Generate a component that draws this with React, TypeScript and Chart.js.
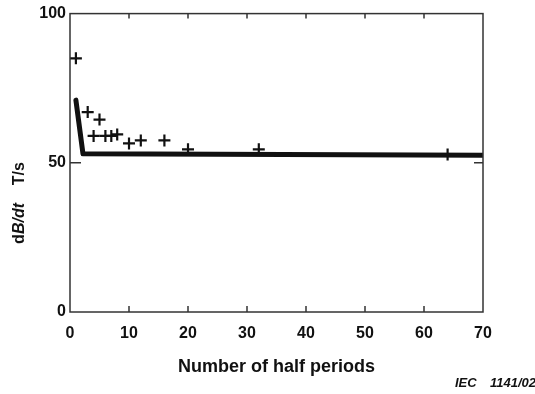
import { useEffect, useRef } from 'react';
import { Chart, registerables } from 'chart.js';

Chart.register(...registerables);

// Measured points: rate of change of flux density per half period count
const halfPeriods = [1, 3, 5, 4, 6, 7, 8, 10, 12, 16, 20, 32, 64];
const measuredRate = [85, 67, 64.5, 59, 59, 59, 59.5, 56.5, 57.5, 57.5, 54.5, 54.5, 52.8];

// Reference curve
const curveHalfPeriods = [1, 2.2, 70];
const curveRate = [71, 53, 52.5];

// Axis ticks
const xTicks = [0, 10, 20, 30, 40, 50, 60, 70];
const yTicks = [0, 50, 100];
const innerXTicks = [10, 20, 30, 40, 50, 60];
const innerYTicks = [50];

const FONT = '"Liberation Sans", Arial, Helvetica, sans-serif';
const INK = '#111';

const framePlugin = {
  id: 'frame',
  afterDraw(chart: any) {
    const { ctx, chartArea: a, scales } = chart;
    ctx.save();
    // box around the plot
    ctx.strokeStyle = '#333';
    ctx.lineWidth = 1.5;
    ctx.strokeRect(a.left, a.top, a.right - a.left, a.bottom - a.top);
    // inward tick marks
    ctx.beginPath();
    innerXTicks.forEach((v) => {
      const px = scales.x.getPixelForValue(v);
      ctx.moveTo(px, a.bottom);
      ctx.lineTo(px, a.bottom - 6);
      ctx.moveTo(px, a.top);
      ctx.lineTo(px, a.top + 5);
    });
    innerYTicks.forEach((v) => {
      const py = scales.y.getPixelForValue(v);
      ctx.moveTo(a.left, py);
      ctx.lineTo(a.left + 11, py);
      ctx.moveTo(a.right, py);
      ctx.lineTo(a.right - 9, py);
    });
    ctx.stroke();

    // y-axis title: dB/dt  T/s
    ctx.translate(20, 203);
    ctx.rotate(-Math.PI / 2);
    ctx.fillStyle = INK;
    ctx.textBaseline = 'middle';
    const parts: [string, string][] = [
      ['d', `bold 16px ${FONT}`],
      ['B/dt', `italic bold 16px ${FONT}`],
      ['    T/s', `bold 16px ${FONT}`],
    ];
    let total = 0;
    parts.forEach(([t, f]) => {
      ctx.font = f;
      total += ctx.measureText(t).width;
    });
    let x = -total / 2;
    parts.forEach(([t, f]) => {
      ctx.font = f;
      ctx.fillText(t, x, 0);
      x += ctx.measureText(t).width;
    });
    ctx.restore();

    // figure reference number
    ctx.save();
    ctx.fillStyle = INK;
    ctx.textBaseline = 'middle';
    ctx.font = `italic bold 13px ${FONT}`;
    ctx.fillText('IEC', 455, 383);
    ctx.fillText('1141/02', 490, 383);
    ctx.restore();
  },
};

export default function App() {
  const canvasRef = useRef<HTMLCanvasElement | null>(null);

  useEffect(() => {
    document.body.style.margin = '0';
    const canvas = canvasRef.current;
    if (!canvas) return;

    const chart = new Chart(canvas, {
      type: 'scatter',
      data: {
        datasets: [
          {
            type: 'line',
            data: curveHalfPeriods.map((x, i) => ({ x, y: curveRate[i] })),
            borderColor: INK,
            borderWidth: 5,
            pointRadius: 0,
            tension: 0,
            borderJoinStyle: 'round',
            borderCapStyle: 'round',
          },
          {
            data: halfPeriods.map((x, i) => ({ x, y: measuredRate[i] })),
            pointStyle: 'cross',
            pointRadius: 6,
            borderWidth: 2.2,
            borderColor: INK,
            backgroundColor: INK,
          },
        ],
      },
      options: {
        animation: false,
        responsive: false,
        maintainAspectRatio: false,
        layout: { padding: { left: 0, right: 52, top: 11, bottom: 0 } },
        plugins: {
          legend: { display: false },
          tooltip: { enabled: false },
        },
        scales: {
          x: {
            type: 'linear',
            min: 0,
            max: 70,
            afterBuildTicks: (s: any) => {
              s.ticks = xTicks.map((value) => ({ value }));
            },
            afterFit: (s: any) => {
              s.height = 82;
            },
            grid: { display: false, drawTicks: false },
            border: { display: false },
            ticks: {
              color: INK,
              padding: 12,
              font: { family: FONT, size: 16, weight: 'bold' },
            },
            title: {
              display: true,
              text: 'Number of half periods',
              color: INK,
              font: { family: FONT, size: 18, weight: 'bold' },
              padding: { top: 0, bottom: 16 },
            },
          },
          y: {
            type: 'linear',
            min: 0,
            max: 100,
            afterBuildTicks: (s: any) => {
              s.ticks = yTicks.map((value) => ({ value }));
            },
            afterFit: (s: any) => {
              s.width = 70;
            },
            grid: { display: false, drawTicks: false },
            border: { display: false },
            ticks: {
              color: INK,
              padding: 4,
              font: { family: FONT, size: 16, weight: 'bold' },
            },
          },
        },
      },
      plugins: [framePlugin],
    } as any);

    return () => chart.destroy();
  }, []);

  return (
    <div style={{ width: 535, height: 394, background: '#fff' }}>
      <canvas ref={canvasRef} width={535} height={394} style={{ display: 'block' }} />
    </div>
  );
}
